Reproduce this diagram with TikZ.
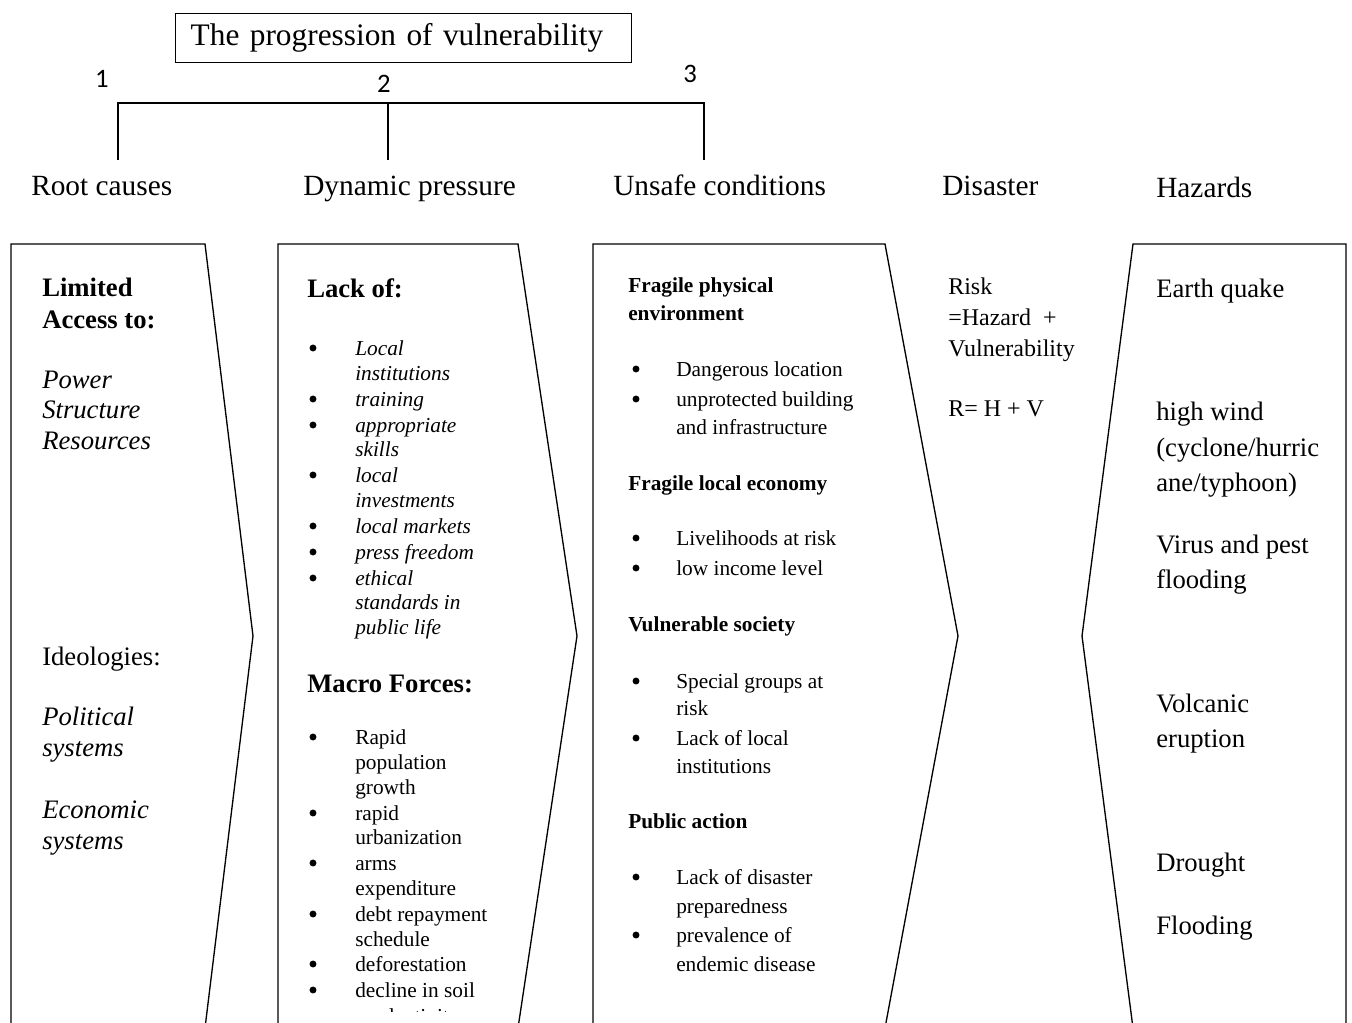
\documentclass[tikz,border=0pt]{standalone}
\usepackage{fontspec}
\setmainfont{Liberation Serif}
\newfontfamily\calibri{Carlito}

\tikzset{
  txt/.style={anchor=base west, inner sep=0pt},
  hdr/.style={txt, font=\fontsize{22}{26}\selectfont, yshift=-7.3pt},
  lg/.style={txt, font=\fontsize{20}{24}\selectfont, yshift=-6.6pt},
  lgb/.style={txt, font=\fontsize{20}{24}\selectfont\bfseries, yshift=-6.6pt},
  lgi/.style={txt, font=\fontsize{20}{24}\selectfont\itshape, yshift=-6.6pt},
  md/.style={txt, font=\fontsize{18}{22}\selectfont, yshift=-5.9pt},
  sm/.style={txt, font=\fontsize{16}{19}\selectfont, yshift=-5.3pt},
  smb/.style={txt, font=\fontsize{16}{19}\selectfont\bfseries, yshift=-5.3pt},
  smi/.style={txt, font=\fontsize{16}{19}\selectfont\itshape, yshift=-5.3pt},
  num/.style={anchor=center, inner sep=0pt, font=\calibri\fontsize{20}{24}\selectfont},
  edge/.style={line width=1pt, line join=miter},
  bar/.style={line width=1.4pt},
  dot/.style={fill=black},
}

\begin{document}
\begin{tikzpicture}[x=0.75pt, y=-0.75pt]
\useasboundingbox (0,0) rectangle (1352,1023);
\clip (0,0) rectangle (1352,1023);

% title box
\node[draw, line width=1.1pt, anchor=north west, inner xsep=11.25pt, inner ysep=0pt,
      text width=319.5pt, minimum height=36.75pt, align=left,
      font=\fontsize{23.5}{28}\selectfont] (title) at (175,13) {The progression of vulnerability};

% numbered bracket
\node[num] (n1) at (102,78.5) {1};
\node[num] (n2) at (384,84) {2};
\node[num] (n3) at (690,74) {3};
\coordinate (bL) at (117,103);
\coordinate (bR) at (705,103);
\coordinate (b1) at (118,103);
\coordinate (b2) at (388,103);
\coordinate (b3) at (704,103);
\coordinate (e1) at (118,160);
\coordinate (e2) at (388,160);
\coordinate (e3) at (704,160);
\draw[bar] (bL) -- (bR);
\draw[bar] (b1) -- (e1);
\draw[bar] (b2) -- (e2);
\draw[bar] (b3) -- (e3);

% column headings
\node[hdr] (h1) at (31,186) {Root causes};
\node[hdr] (h2) at (303,186) {Dynamic pressure};
\node[hdr] (h3) at (613,186) {Unsafe conditions};
\node[hdr] (h4) at (942,186) {Disaster};
\node[hdr] (h5) at (1156,188) {Hazards};

% chevron outlines
\draw[edge] (11,244) -- (205,244) -- (253,636) -- (205,1028) -- (11,1028) -- cycle;
\draw[edge] (278,244) -- (518,244) -- (577,636) -- (518,1028) -- (278,1028) -- cycle;
\draw[edge] (593,244) -- (885,244) -- (958,636) -- (885,1028) -- (593,1028) -- cycle;
\draw[edge] (1133,244) -- (1346,244) -- (1346,1028) -- (1133,1028) -- (1082,636) -- cycle;

% root causes
\node[lgb] (rc1) at (42,288) {Limited};
\node[lgb] (rc2) at (42,320) {Access to:};
\node[lgi] (rc3) at (42,380) {Power};
\node[lgi] (rc4) at (42,410) {Structure};
\node[lgi] (rc5) at (42,441) {Resources};
\node[lg]  (rc6) at (42,657) {Ideologies:};
\node[lgi] (rc7) at (42,717) {Political};
\node[lgi] (rc8) at (42,748) {systems};
\node[lgi] (rc9) at (42,810) {Economic};
\node[lgi] (rc10) at (42,841) {systems};

% dynamic pressure
\node[lgb] (dp1) at (307,289) {Lack of:};
\foreach \y/\t [count=\i] in {348/{Local}, 373/{institutions}, 399/{training},
    425/{appropriate}, 449/{skills}, 475/{local}, 500/{investments},
    526/{local markets}, 552/{press freedom}, 578/{ethical},
    602/{standards in}, 627/{public life}}
  \node[smi] (lk\i) at (355,\y) {\t};
\foreach \y in {348,399,425,475,526,552,578}
  \fill[dot] (313,\y) circle[radius=2.6pt];
\node[lgb] (dp2) at (307,684) {Macro Forces:};
\foreach \y/\t [count=\i] in {737/{Rapid}, 762/{population}, 787/{growth},
    813/{rapid}, 837/{urbanization}, 863/{arms}, 888/{expenditure},
    914/{debt repayment}, 939/{schedule}, 964/{deforestation},
    990/{decline in soil}}
  \node[sm] (mf\i) at (355,\y) {\t};
\foreach \y in {737,813,863,914,964,990}
  \fill[dot] (313,\y) circle[radius=2.6pt];
% last line of the list runs past the lower edge of the panel
\begin{scope}
  \clip (278,1000) rectangle (518,1011);
  \node[sm] (mf12) at (355,1016) {productivity};
\end{scope}

% unsafe conditions
\node[smb] (uc1) at (628,285) {Fragile physical};
\node[smb] (uc2) at (628,313) {environment};
\node[smb] (uc3) at (628,483) {Fragile local economy};
\node[smb] (uc4) at (628,624) {Vulnerable society};
\node[smb] (uc5) at (628,821) {Public action};
\foreach \y/\t [count=\i] in {369/{Dangerous location}, 399/{unprotected building},
    427/{and infrastructure}, 538/{Livelihoods at risk}, 568/{low income level},
    681/{Special groups at}, 708/{risk}, 738/{Lack of local}, 766/{institutions},
    877/{Lack of disaster}, 906/{preparedness}, 935/{prevalence of},
    964/{endemic disease}}
  \node[sm] (us\i) at (676,\y) {\t};
\foreach \y in {369,399,538,568,681,738,877,935}
  \fill[dot] (636,\y) circle[radius=2.6pt];

% disaster
\node[md] (ds1) at (948,287) {Risk};
\node[md] (ds2) at (948,318) {=Hazard\ \ +};
\node[md] (ds3) at (948,349) {Vulnerability};
\node[md] (ds4) at (948,409) {R= H + V};

% hazards
\foreach \y/\t [count=\i] in {289/{Earth quake}, 412/{high wind},
    448/{(cyclone/hurric}, 483/{ane/typhoon)}, 545/{Virus and pest},
    580/{flooding}, 704/{Volcanic}, 739/{eruption}, 863/{Drought},
    926/{Flooding}}
  \node[lg] (hz\i) at (1156,\y) {\t};
\end{tikzpicture}
\end{document}
